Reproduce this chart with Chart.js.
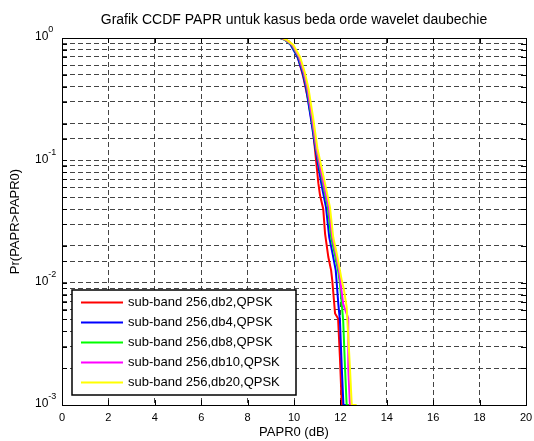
<!DOCTYPE html>
<html>
<head>
<meta charset="utf-8">
<title>Grafik CCDF PAPR</title>
<script src="https://cdn.jsdelivr.net/npm/chart.js@4.4.1/dist/chart.umd.min.js"></script>
<style>
  html, body { margin: 0; padding: 0; background: #fff; }
  #graph { display: block; }
</style>
</head>
<body>
<canvas id="graph" width="534" height="441"></canvas>
<script>
// == CCDF of PAPR for different daubechies wavelet orders ==
// values

const seriesLabels = [
	'sub-band 256,db2,QPSK',
	'sub-band 256,db4,QPSK',
	'sub-band 256,db8,QPSK',
	'sub-band 256,db10,QPSK',
	'sub-band 256,db20,QPSK'
];
const seriesColors = ['#ff0000', '#0000ff', '#00ff00', '#ff00ff', '#ffff00'];

// PAPR0 in dB and Pr(PAPR>PAPR0) per curve
const paprDb2  = [0, 9.4, 9.6, 9.8, 10.0, 10.2, 10.4, 10.6, 10.8, 10.9, 11.05, 11.12, 11.26, 11.34, 11.48, 11.6, 11.65, 11.77, 11.9, 11.98, 12.06, 12.15];
const ccdfDb2  = [1, 1, 0.98, 0.93, 0.83, 0.66, 0.48, 0.32, 0.19, 0.125, 0.065, 0.052, 0.040, 0.025, 0.0162, 0.0126, 0.0104, 0.0056, 0.0051, 0.00245, 0.001, 0.001];

const paprDb4  = [0, 9.4, 9.6, 9.85, 10.15, 10.37, 10.52, 10.72, 10.92, 11.18, 11.38, 11.52, 11.66, 11.8, 11.91, 11.98, 12.06, 12.13, 12.38];
const ccdfDb4  = [1, 1, 0.97, 0.88, 0.70, 0.52, 0.39, 0.225, 0.125, 0.064, 0.0413, 0.0235, 0.0174, 0.0126, 0.0067, 0.0049, 0.002, 0.001, 0.001];

const paprDb8  = [0, 9.42, 9.62, 9.9, 10.2, 10.41, 10.56, 10.76, 10.95, 11.25, 11.46, 11.6, 11.75, 11.9, 11.98, 12.12, 12.2, 12.27, 12.45];
const ccdfDb8  = [1, 1, 0.96, 0.877, 0.70, 0.52, 0.39, 0.225, 0.125, 0.064, 0.0413, 0.0235, 0.0174, 0.0126, 0.0098, 0.0049, 0.002, 0.001, 0.001];

const paprDb10 = [0, 9.45, 9.65, 9.93, 10.22, 10.43, 10.58, 10.78, 10.97, 11.28, 11.5, 11.65, 11.8, 11.94, 12.04, 12.12, 12.34, 12.34, 12.41, 12.6];
const ccdfDb10 = [1, 1, 0.96, 0.877, 0.70, 0.52, 0.39, 0.225, 0.125, 0.064, 0.0413, 0.0235, 0.0174, 0.0126, 0.0088, 0.0067, 0.0051, 0.002, 0.001, 0.001];

const paprDb20 = [0, 9.5, 9.7, 9.97, 10.26, 10.47, 10.62, 10.82, 11.01, 11.34, 11.55, 11.69, 11.84, 11.98, 12.06, 12.15, 12.27, 12.41, 12.49, 12.7];
const ccdfDb20 = [1, 1, 0.96, 0.877, 0.70, 0.52, 0.39, 0.225, 0.125, 0.064, 0.0413, 0.0235, 0.0174, 0.0126, 0.0104, 0.0088, 0.0063, 0.00203, 0.001, 0.001];

const paprSeries = [paprDb2, paprDb4, paprDb8, paprDb10, paprDb20];
const ccdfSeries = [ccdfDb2, ccdfDb4, ccdfDb8, ccdfDb10, ccdfDb20];

// axis ticks
const xTickStep = 2;
const yDecades = [1, 0.1, 0.01, 0.001];
const yExponents = ['0', '-1', '-2', '-3'];

const fontFamily = 'Arial, "Liberation Sans", Helvetica, sans-serif';

function toPoints(xs, ys) {
	return xs.map(function(x, i) {
		return {x: x, y: ys[i]};
	});
}

// y labels as 10 with a raised exponent, like matlab does
const decadeLabels = {
	id: 'decadeLabels',
	afterDraw(chart) {
		const ctx = chart.ctx;
		const y = chart.scales.y;
		ctx.save();
		ctx.fillStyle = '#000';
		ctx.textAlign = 'left';
		ctx.textBaseline = 'middle';
		yDecades.forEach(function(v, i) {
			const py = y.getPixelForValue(v);
			ctx.font = '12px ' + fontFamily;
			ctx.fillText('10', 35, py - 1);
			const w = ctx.measureText('10').width;
			ctx.font = '9px ' + fontFamily;
			ctx.fillText(yExponents[i], 35 + w, py - 8);
		});
		ctx.restore();
	}
};

// solid box round the axes plus inward tick marks
const axesFrame = {
	id: 'axesFrame',
	afterDatasetsDraw(chart) {
		const ctx = chart.ctx;
		const a = chart.chartArea;
		const sx = chart.scales.x, sy = chart.scales.y;
		ctx.save();
		ctx.strokeStyle = '#000';
		ctx.lineWidth = 1;
		ctx.beginPath();
		sx.ticks.forEach(function(t) {
			const px = Math.round(sx.getPixelForValue(t.value)) + 0.5;
			ctx.moveTo(px, a.bottom); ctx.lineTo(px, a.bottom - 5);
			ctx.moveTo(px, a.top); ctx.lineTo(px, a.top + 5);
		});
		sy.ticks.forEach(function(t) {
			const py = Math.round(sy.getPixelForValue(t.value)) + 0.5;
			ctx.moveTo(a.left, py); ctx.lineTo(a.left + 5, py);
			ctx.moveTo(a.right, py); ctx.lineTo(a.right - 5, py);
		});
		ctx.stroke();
		ctx.strokeRect(Math.round(a.left) + 0.5, Math.round(a.top) + 0.5,
			Math.round(a.right - a.left), Math.round(a.bottom - a.top));
		ctx.restore();
	}
};

// legend box in the lower left corner of the axes
const boxLegend = {
	id: 'boxLegend',
	afterDraw(chart) {
		const ctx = chart.ctx;
		const box = {left: 72, top: 290, width: 224, height: 105};
		ctx.save();
		ctx.fillStyle = '#fff';
		ctx.fillRect(box.left, box.top, box.width, box.height);
		ctx.strokeStyle = '#000';
		ctx.lineWidth = 1.5;
		ctx.strokeRect(box.left, box.top, box.width, box.height);
		ctx.font = '13px ' + fontFamily;
		ctx.textAlign = 'left';
		ctx.textBaseline = 'middle';
		chart.data.datasets.forEach(function(ds, i) {
			const y = box.top + 12.5 + i * 20;
			ctx.strokeStyle = ds.borderColor;
			ctx.lineWidth = 2;
			ctx.beginPath();
			ctx.moveTo(box.left + 9, y);
			ctx.lineTo(box.left + 51, y);
			ctx.stroke();
			ctx.fillStyle = '#000';
			ctx.fillText(ds.label, box.left + 56, y);
		});
		ctx.restore();
	}
};

const datasets = seriesLabels.map(function(label, i) {
	return {
		label: label,
		data: toPoints(paprSeries[i], ccdfSeries[i]),
		borderColor: seriesColors[i],
		backgroundColor: seriesColors[i],
		borderWidth: 2,
		pointRadius: 0,
		fill: false,
		tension: 0,
		order: seriesLabels.length - i
	};
});

const gridStyle = {color: '#444', lineWidth: 1, drawTicks: false};

new Chart(document.getElementById('graph').getContext('2d'), {
	type: 'line',
	data: {datasets: datasets},
	options: {
		responsive: false,
		animation: false,
		devicePixelRatio: 1,
		layout: {padding: {left: 0, right: 8, top: 0, bottom: 0}},
		plugins: {
			legend: {display: false},
			tooltip: {enabled: false},
			title: {
				display: true,
				fullSize: false,
				text: 'Grafik CCDF PAPR untuk kasus beda orde wavelet daubechie',
				color: '#000',
				font: {family: fontFamily, size: 14, weight: 'normal'},
				padding: {top: 11.6, bottom: 9.6}
			}
		},
		scales: {
			x: {
				type: 'linear',
				min: 0,
				max: 20,
				grid: gridStyle,
				border: {display: false, dash: [5, 3]},
				ticks: {
					stepSize: xTickStep,
					color: '#000',
					padding: 6,
					maxRotation: 0,
					font: {family: fontFamily, size: 11}
				},
				title: {
					display: true,
					text: 'PAPR0 (dB)',
					color: '#000',
					font: {family: fontFamily, size: 13},
					padding: {top: 0, bottom: 1}
				},
				afterFit(scale) {
					scale.height = 36;
					scale.paddingLeft = 0;
					scale.paddingRight = 0;
				}
			},
			y: {
				type: 'logarithmic',
				min: 0.001,
				max: 1,
				grid: gridStyle,
				border: {display: false, dash: [5, 3]},
				ticks: {
					autoSkip: false,
					callback: function() { return ''; },
					font: {family: fontFamily, size: 11}
				},
				title: {
					display: true,
					text: 'Pr(PAPR>PAPR0)',
					color: '#000',
					font: {family: fontFamily, size: 13},
					padding: {top: 8, bottom: 0}
				},
				afterFit(scale) {
					scale.width = 62;
					scale.paddingTop = 0;
					scale.paddingBottom = 0;
				}
			}
		}
	},
	plugins: [axesFrame, decadeLabels, boxLegend]
});
</script>
</body>
</html>
